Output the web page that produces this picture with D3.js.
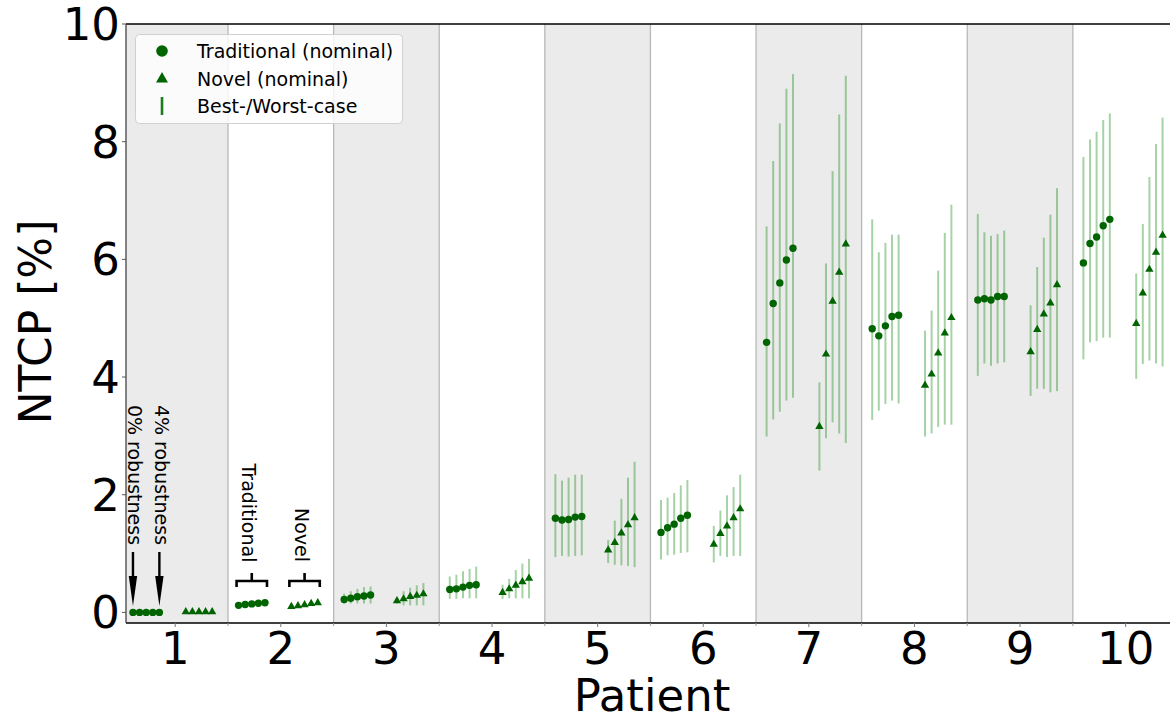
<!DOCTYPE html>
<html><head><meta charset="utf-8">
<script src="https://cdn.jsdelivr.net/npm/d3@7"></script>
<style>body{margin:0;background:#fff}svg{display:block;font-family:"DejaVu Sans",sans-serif}</style>
</head><body>
<svg id="chart" width="1170" height="714"></svg>
<script>
// ---------- data ----------
const patients = [1,2,3,4,5,6,7,8,9,10];
const robustnessLevels = [0,1,2,3,4]; // % robustness
const yTicks = [0,2,4,6,8,10];

const tradNominal = [
  [0,0,0,0,0],
  [0.12,0.135,0.145,0.155,0.165],
  [0.22,0.24,0.265,0.28,0.295],
  [0.39,0.40,0.43,0.46,0.47],
  [1.60,1.57,1.58,1.62,1.63],
  [1.36,1.44,1.50,1.60,1.65],
  [4.59,5.25,5.60,5.99,6.19],
  [4.82,4.70,4.87,5.03,5.05],
  [5.31,5.33,5.31,5.37,5.37],
  [5.94,6.27,6.38,6.57,6.68]
];
const tradBest = [
  [0,0,0,0,0],
  [0.10,0.115,0.125,0.135,0.145],
  [0.15,0.15,0.15,0.15,0.15],
  [0.23,0.23,0.24,0.24,0.24],
  [0.94,0.96,0.95,0.96,0.97],
  [0.90,0.97,0.98,1.01,1.02],
  [2.99,3.28,3.41,3.60,3.65],
  [3.27,3.43,3.54,3.60,3.55],
  [4.02,4.23,4.19,4.23,4.25],
  [4.30,4.59,4.61,4.67,4.67]
];
const tradWorst = [
  [0,0,0,0,0],
  [0.14,0.16,0.17,0.18,0.19],
  [0.32,0.36,0.40,0.43,0.44],
  [0.61,0.64,0.70,0.74,0.78],
  [2.35,2.24,2.29,2.34,2.34],
  [1.91,1.95,2.03,2.16,2.25],
  [6.56,7.67,8.31,8.90,9.15],
  [6.68,6.12,6.28,6.42,6.42],
  [6.77,6.46,6.40,6.43,6.49],
  [7.74,8.04,8.17,8.37,8.48]
];
const novelNominal = [
  [0,0,0,0,0],
  [0.09,0.105,0.12,0.14,0.155],
  [0.19,0.22,0.26,0.28,0.305],
  [0.33,0.39,0.45,0.51,0.57],
  [1.05,1.18,1.34,1.48,1.60],
  [1.15,1.33,1.46,1.60,1.75],
  [3.15,4.38,5.28,5.77,6.25],
  [3.85,4.04,4.40,4.74,5.00],
  [4.42,4.80,5.06,5.25,5.56],
  [4.90,5.42,5.82,6.11,6.40]
];
const novelBest = [
  [0,0,0,0,0],
  [0.075,0.09,0.10,0.115,0.13],
  [0.15,0.12,0.12,0.12,0.12],
  [0.23,0.24,0.24,0.24,0.24],
  [0.84,0.81,0.80,0.79,0.77],
  [0.85,0.96,0.94,0.96,0.96],
  [2.41,2.96,3.23,3.04,2.88],
  [2.99,3.04,3.15,3.19,3.19],
  [3.68,3.80,3.80,3.74,3.76],
  [3.97,4.22,4.28,4.23,4.18]
];
const novelWorst = [
  [0,0,0,0,0],
  [0.11,0.13,0.15,0.17,0.19],
  [0.21,0.36,0.42,0.46,0.50],
  [0.47,0.57,0.72,0.83,0.91],
  [1.23,1.56,1.93,2.29,2.56],
  [1.47,1.73,1.99,2.13,2.34],
  [3.91,5.93,7.50,8.46,9.12],
  [4.79,5.13,5.81,6.45,6.93],
  [5.22,5.87,6.37,6.76,7.21],
  [5.76,6.60,7.40,7.96,8.41]
];
const legendLabels = ["Traditional (nominal)","Novel (nominal)","Best-/Worst-case"];

// ---------- chart ----------
const svg = d3.select("#chart");
const L = 126, R = 1170, T = 24, B = 623;
const x = d3.scaleLinear().domain([0.534, 10.42]).range([L, R]);
const y = d3.scaleLinear().domain([-0.18, 10]).range([B, T]);
const green = "#006400";
const tradOff = r => -0.4 + r * 0.0625;
const novOff = r => 0.1 + r * 0.0625;

svg.append("defs").append("clipPath").attr("id","clip")
  .append("rect").attr("x",L).attr("y",T).attr("width",R-L).attr("height",B-T);
const plot = svg.append("g").attr("clip-path","url(#clip)");

// alternating bands
plot.selectAll("rect.band").data(patients.filter(p => p % 2 === 1)).join("rect")
  .attr("class","band")
  .attr("x", p => x(p-0.5)).attr("width", p => x(p+0.5)-x(p-0.5))
  .attr("y", T).attr("height", B-T).attr("fill","#ebebeb");

// separators
const seps = patients.slice(0,-1).map(p => p + 0.5);
plot.selectAll("line.sep").data(seps).join("line")
  .attr("x1", d => x(d)).attr("x2", d => x(d)).attr("y1", T).attr("y2", B)
  .attr("stroke","#b8b8b8").attr("stroke-width",1.3);

// build point records
function records(nom, best, worst, off, kind){
  const out = [];
  patients.forEach((p,i) => robustnessLevels.forEach((r,j) => {
    out.push({kind, xv: p + off(r), v: nom[i][j], lo: best[i][j], hi: worst[i][j]});
  }));
  return out;
}
const trad = records(tradNominal, tradBest, tradWorst, tradOff, "trad");
const nov = records(novelNominal, novelBest, novelWorst, novOff, "nov");
const all = trad.concat(nov);

// error bars
plot.selectAll("line.err").data(all).join("line")
  .attr("x1", d => x(d.xv)).attr("x2", d => x(d.xv))
  .attr("y1", d => y(d.lo)).attr("y2", d => y(d.hi))
  .attr("stroke","green").attr("stroke-opacity",0.35).attr("stroke-width",2);

// markers
plot.selectAll("circle.trad").data(trad).join("circle")
  .attr("cx", d => x(d.xv)).attr("cy", d => y(d.v)).attr("r",3.7).attr("fill",green);
const tri = d3.symbol().type(d3.symbolTriangle).size(30);
plot.selectAll("path.nov").data(nov).join("path")
  .attr("d", tri).attr("transform", d => `translate(${x(d.xv)},${y(d.v)-0.5})`).attr("fill",green);

// spines
svg.append("line").attr("x1",L).attr("x2",R).attr("y1",T).attr("y2",T).attr("stroke","#000").attr("stroke-width",1.3);
svg.append("line").attr("x1",L).attr("x2",R).attr("y1",B).attr("y2",B).attr("stroke","#000").attr("stroke-width",1.3);
svg.append("line").attr("x1",L).attr("x2",L).attr("y1",T).attr("y2",B).attr("stroke","#444").attr("stroke-width",1.3);

// y axis
const yAxis = svg.append("g");
yAxis.selectAll("line").data(yTicks).join("line")
  .attr("x1",L-4).attr("x2",L).attr("y1",d=>y(d)).attr("y2",d=>y(d)).attr("stroke","#555");
yAxis.selectAll("text").data(yTicks).join("text")
  .attr("x",L-6).attr("y",d=>y(d)+16).attr("text-anchor","end")
  .attr("font-size",45).attr("fill","#000").text(d=>d);

// x axis
const xAxis = svg.append("g");
xAxis.selectAll("line.maj").data(patients).join("line")
  .attr("x1",d=>x(d)).attr("x2",d=>x(d)).attr("y1",B).attr("y2",B+4).attr("stroke","#777");
xAxis.selectAll("line.min").data(seps).join("line")
  .attr("x1",d=>x(d)).attr("x2",d=>x(d)).attr("y1",B).attr("y2",B+3).attr("stroke","#999");
xAxis.selectAll("text").data(patients).join("text")
  .attr("x",d=>x(d)).attr("y",664).attr("text-anchor","middle")
  .attr("font-size",45).attr("fill","#000").text(d=>d);

// axis labels
svg.append("text").attr("x",652).attr("y",711).attr("text-anchor","middle")
  .attr("font-size",45).text("Patient");
svg.append("text").attr("transform","translate(51,322) rotate(-90)").attr("text-anchor","middle")
  .attr("font-size",44).text("NTCP [%]");

// annotations
const ann = svg.append("g");
function arrow(xp){
  ann.append("line").attr("x1",xp).attr("x2",xp).attr("y1",552).attr("y2",580)
    .attr("stroke","#000").attr("stroke-width",2.4);
  ann.append("path").attr("d",`M${xp-4.2},576 L${xp+4.2},576 L${xp},606 Z`).attr("fill","#000");
}
const p1 = patients[0], p2 = patients[1];
const a0 = x(p1 + tradOff(robustnessLevels[0])), a4 = x(p1 + tradOff(robustnessLevels[4]));
arrow(a0); arrow(a4);
function vtext(cx, cy, s){
  ann.append("text").attr("transform",`translate(${cx},${cy}) rotate(90)`)
    .attr("text-anchor","middle").attr("dominant-baseline","central")
    .attr("font-size",19).text(s);
}
vtext(a0+2.5, 475, "0% robustness");
vtext(a4+2.5, 475, "4% robustness");
function bracket(x1, x2){
  const cx = (x1+x2)/2;
  ann.append("path").attr("d",`M${x1},587 L${x1},581 L${x2},581 L${x2},587 M${cx},581 L${cx},573`)
    .attr("fill","none").attr("stroke","#000").attr("stroke-width",2.6);
  return cx;
}
const bt = bracket(x(p2+tradOff(0))-2, x(p2+tradOff(4))+2);
const bn = bracket(x(p2+novOff(0))-2, x(p2+novOff(4))+2);
vtext(bt-3, 513, "Traditional");
vtext(bn-3, 535, "Novel");

// legend
const lg = svg.append("g");
lg.append("rect").attr("x",135.5).attr("y",34.5).attr("width",267).attr("height",89).attr("rx",4)
  .attr("fill","#fff").attr("fill-opacity",0.8).attr("stroke","#d0d0d0");
const rowsY = [51, 79, 106];
lg.append("circle").attr("cx",162).attr("cy",rowsY[0]).attr("r",5.8).attr("fill",green);
lg.append("path").attr("d", d3.symbol().type(d3.symbolTriangle).size(62))
  .attr("transform",`translate(162,${rowsY[1]})`).attr("fill",green);
lg.append("line").attr("x1",162).attr("x2",162).attr("y1",rowsY[2]-9).attr("y2",rowsY[2]+9)
  .attr("stroke","#1b7d1b").attr("stroke-width",2.6);
lg.selectAll("text").data(legendLabels).join("text")
  .attr("x",197).attr("y",(d,i)=>rowsY[i]+7).attr("font-size",19).text(d=>d);
</script>
</body></html>
